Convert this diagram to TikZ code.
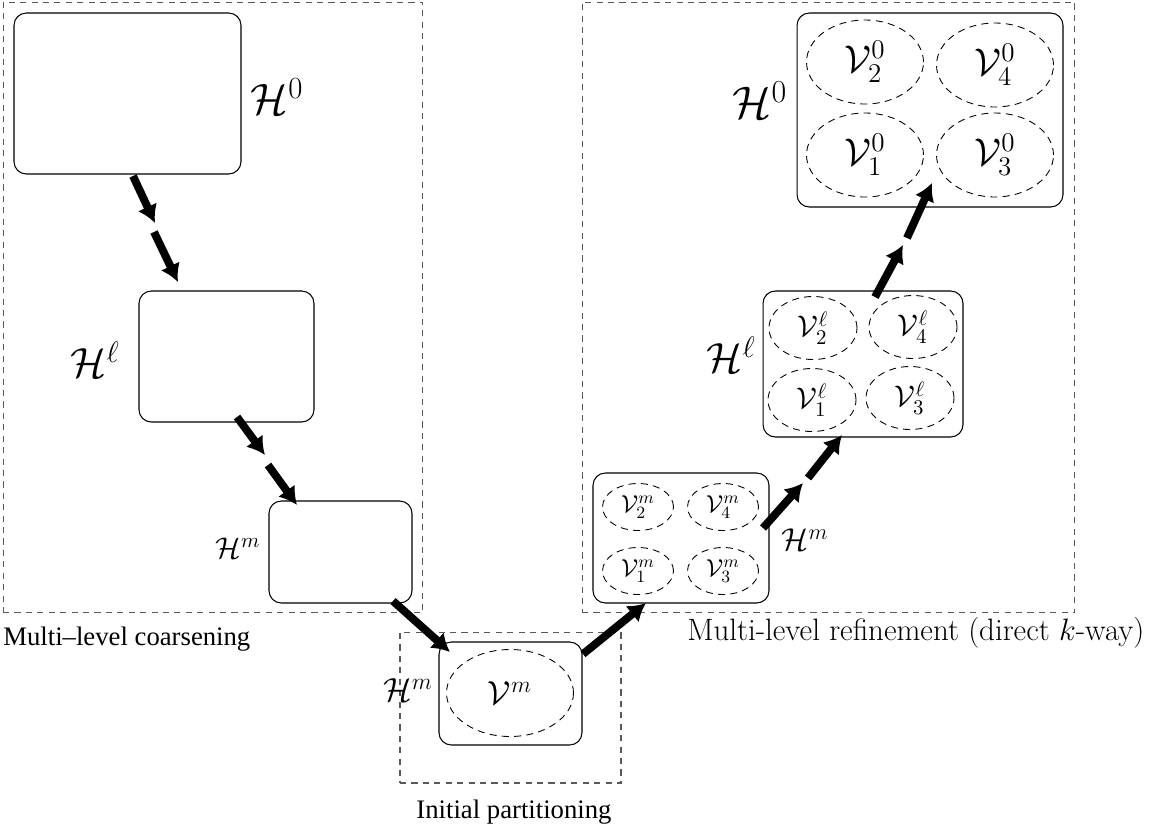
\RequirePackage{fix-cm}
\documentclass[tikz,border=0pt]{standalone}
\usepackage{fontspec}
\newfontfamily\timesfam{Liberation Serif}
\usetikzlibrary{shapes.geometric,arrows.meta}
\newcommand\setfs[1]{\fontsize{#1}{#1}\selectfont}
\begin{document}
\begin{tikzpicture}[x=0.02cm,y=-0.02cm,
  region/.style={rectangle,draw=black!65,dash pattern=on 3.5pt off 3pt,line width=0.6pt,inner sep=0pt},
  hbox/.style={rectangle,draw,rounded corners=7pt,line width=0.6pt,inner sep=0pt},
  part/.style={ellipse,draw,dash pattern=on 4pt off 3pt,line width=0.5pt,inner sep=0pt},
  flow/.style={line width=4.5pt,-{Latex[length=10pt,width=12pt]}}]
\useasboundingbox (0,0) rectangle (1150,826);

% phase regions
\node[region,minimum width=8.4cm,minimum height=12.22cm] (coarse) at (213,307.5) {};
\node[region,minimum width=9.86cm,minimum height=12.22cm] (refine) at (828.5,307.5) {};
\node[region,minimum width=4.42cm,minimum height=3.02cm] (initial) at (510.5,707.5) {};

% coarsening hierarchy
\node[hbox,minimum width=4.54cm,minimum height=3.22cm] (cH0) at (127.5,93.5) {};
\node[hbox,minimum width=3.5cm,minimum height=2.62cm] (cHl) at (226.5,356.5) {};
\node[hbox,minimum width=2.86cm,minimum height=2.04cm] (cHm) at (340.5,552) {};
\node (lcH0) at (277,97) {\setfs{25}$\mathcal{H}^0$};
\node (lcHl) at (95,360) {\setfs{24}$\mathcal{H}^\ell$};
\node (lcHm) at (238,548) {\setfs{17}$\mathcal{H}^m$};

% initial partition
\node[hbox,minimum width=2.86cm,minimum height=2.06cm] (iHm) at (510.5,693.5) {};
\node[part,minimum width=2.54cm,minimum height=1.74cm] (iV) at (510,693) {\setfs{19}$\mathcal{V}^m$};
\node (liHm) at (408,690) {\setfs{19}$\mathcal{H}^m$};

% refinement hierarchy
\node[hbox,minimum width=3.52cm,minimum height=2.6cm] (rHm) at (681,538) {};
\node[part,minimum width=1.42cm,minimum height=0.94cm] (rHmV2) at (638,507) {\setfs{14}$\mathcal{V}^m_2$};
\node[part,minimum width=1.42cm,minimum height=0.94cm] (rHmV4) at (723,507) {\setfs{14}$\mathcal{V}^m_4$};
\node[part,minimum width=1.42cm,minimum height=0.94cm] (rHmV1) at (638,571) {\setfs{14}$\mathcal{V}^m_1$};
\node[part,minimum width=1.42cm,minimum height=0.94cm] (rHmV3) at (723,571) {\setfs{14}$\mathcal{V}^m_3$};
\node (lrHm) at (805,540) {\setfs{18}$\mathcal{H}^m$};

\node[hbox,minimum width=4.0cm,minimum height=2.92cm] (rHl) at (863,364) {};
\node[part,minimum width=1.76cm,minimum height=1.26cm] (rHlV2) at (813,328) {\setfs{17}$\mathcal{V}^\ell_2$};
\node[part,minimum width=1.76cm,minimum height=1.26cm] (rHlV4) at (913,327) {\setfs{17}$\mathcal{V}^\ell_4$};
\node[part,minimum width=1.76cm,minimum height=1.26cm] (rHlV1) at (812,400) {\setfs{17}$\mathcal{V}^\ell_1$};
\node[part,minimum width=1.76cm,minimum height=1.26cm] (rHlV3) at (910,398) {\setfs{17}$\mathcal{V}^\ell_3$};
\node (lrHl) at (731,355) {\setfs{24}$\mathcal{H}^\ell$};

\node[hbox,minimum width=5.32cm,minimum height=3.88cm] (rH0) at (930,110) {};
\node[part,minimum width=2.34cm,minimum height=1.68cm] (rH0V2) at (865,62) {\setfs{22}$\mathcal{V}^0_2$};
\node[part,minimum width=2.34cm,minimum height=1.68cm] (rH0V4) at (995,65) {\setfs{22}$\mathcal{V}^0_4$};
\node[part,minimum width=2.34cm,minimum height=1.68cm] (rH0V1) at (865,155) {\setfs{22}$\mathcal{V}^0_1$};
\node[part,minimum width=2.34cm,minimum height=1.68cm] (rH0V3) at (995,155) {\setfs{22}$\mathcal{V}^0_3$};
\node (lrH0) at (760,100) {\setfs{26}$\mathcal{H}^0$};

% phase captions
\node[anchor=base west,inner sep=0pt] (tcoarse) at (3,645) {\timesfam\setfs{15.2}Multi–level coarsening};
\node[anchor=base,inner sep=0pt] (tinitial) at (514,818) {\timesfam\setfs{15.2}Initial partitioning};
\node[anchor=base west,inner sep=0pt] (trefine) at (687,640) {\setfs{17.6}Multi-level refinement (direct $k$-way)};

% flow between levels
\coordinate (f1a) at (133,176); \coordinate (f1b) at (155,223);
\coordinate (f1c) at (154,232); \coordinate (f1d) at (178,282);
\coordinate (f2a) at (237,417); \coordinate (f2b) at (265,455);
\coordinate (f2c) at (268,465); \coordinate (f2d) at (297,505);
\coordinate (f3a) at (393,601); \coordinate (f3b) at (450,652);
\coordinate (f4a) at (583,654); \coordinate (f4b) at (646,603);
\coordinate (f5a) at (763,528); \coordinate (f5b) at (803,483);
\coordinate (f5c) at (808,478); \coordinate (f5d) at (842,435);
\coordinate (f6a) at (875,297); \coordinate (f6b) at (903,245);
\coordinate (f6c) at (907,238); \coordinate (f6d) at (932,183);
\draw[flow] (f1a) -- (f1b);
\draw[flow] (f1c) -- (f1d);
\draw[flow] (f2a) -- (f2b);
\draw[flow] (f2c) -- (f2d);
\draw[flow] (f3a) -- (f3b);
\draw[flow] (f4a) -- (f4b);
\draw[flow] (f5a) -- (f5b);
\draw[flow] (f5c) -- (f5d);
\draw[flow] (f6a) -- (f6b);
\draw[flow] (f6c) -- (f6d);
\end{tikzpicture}
\end{document}
